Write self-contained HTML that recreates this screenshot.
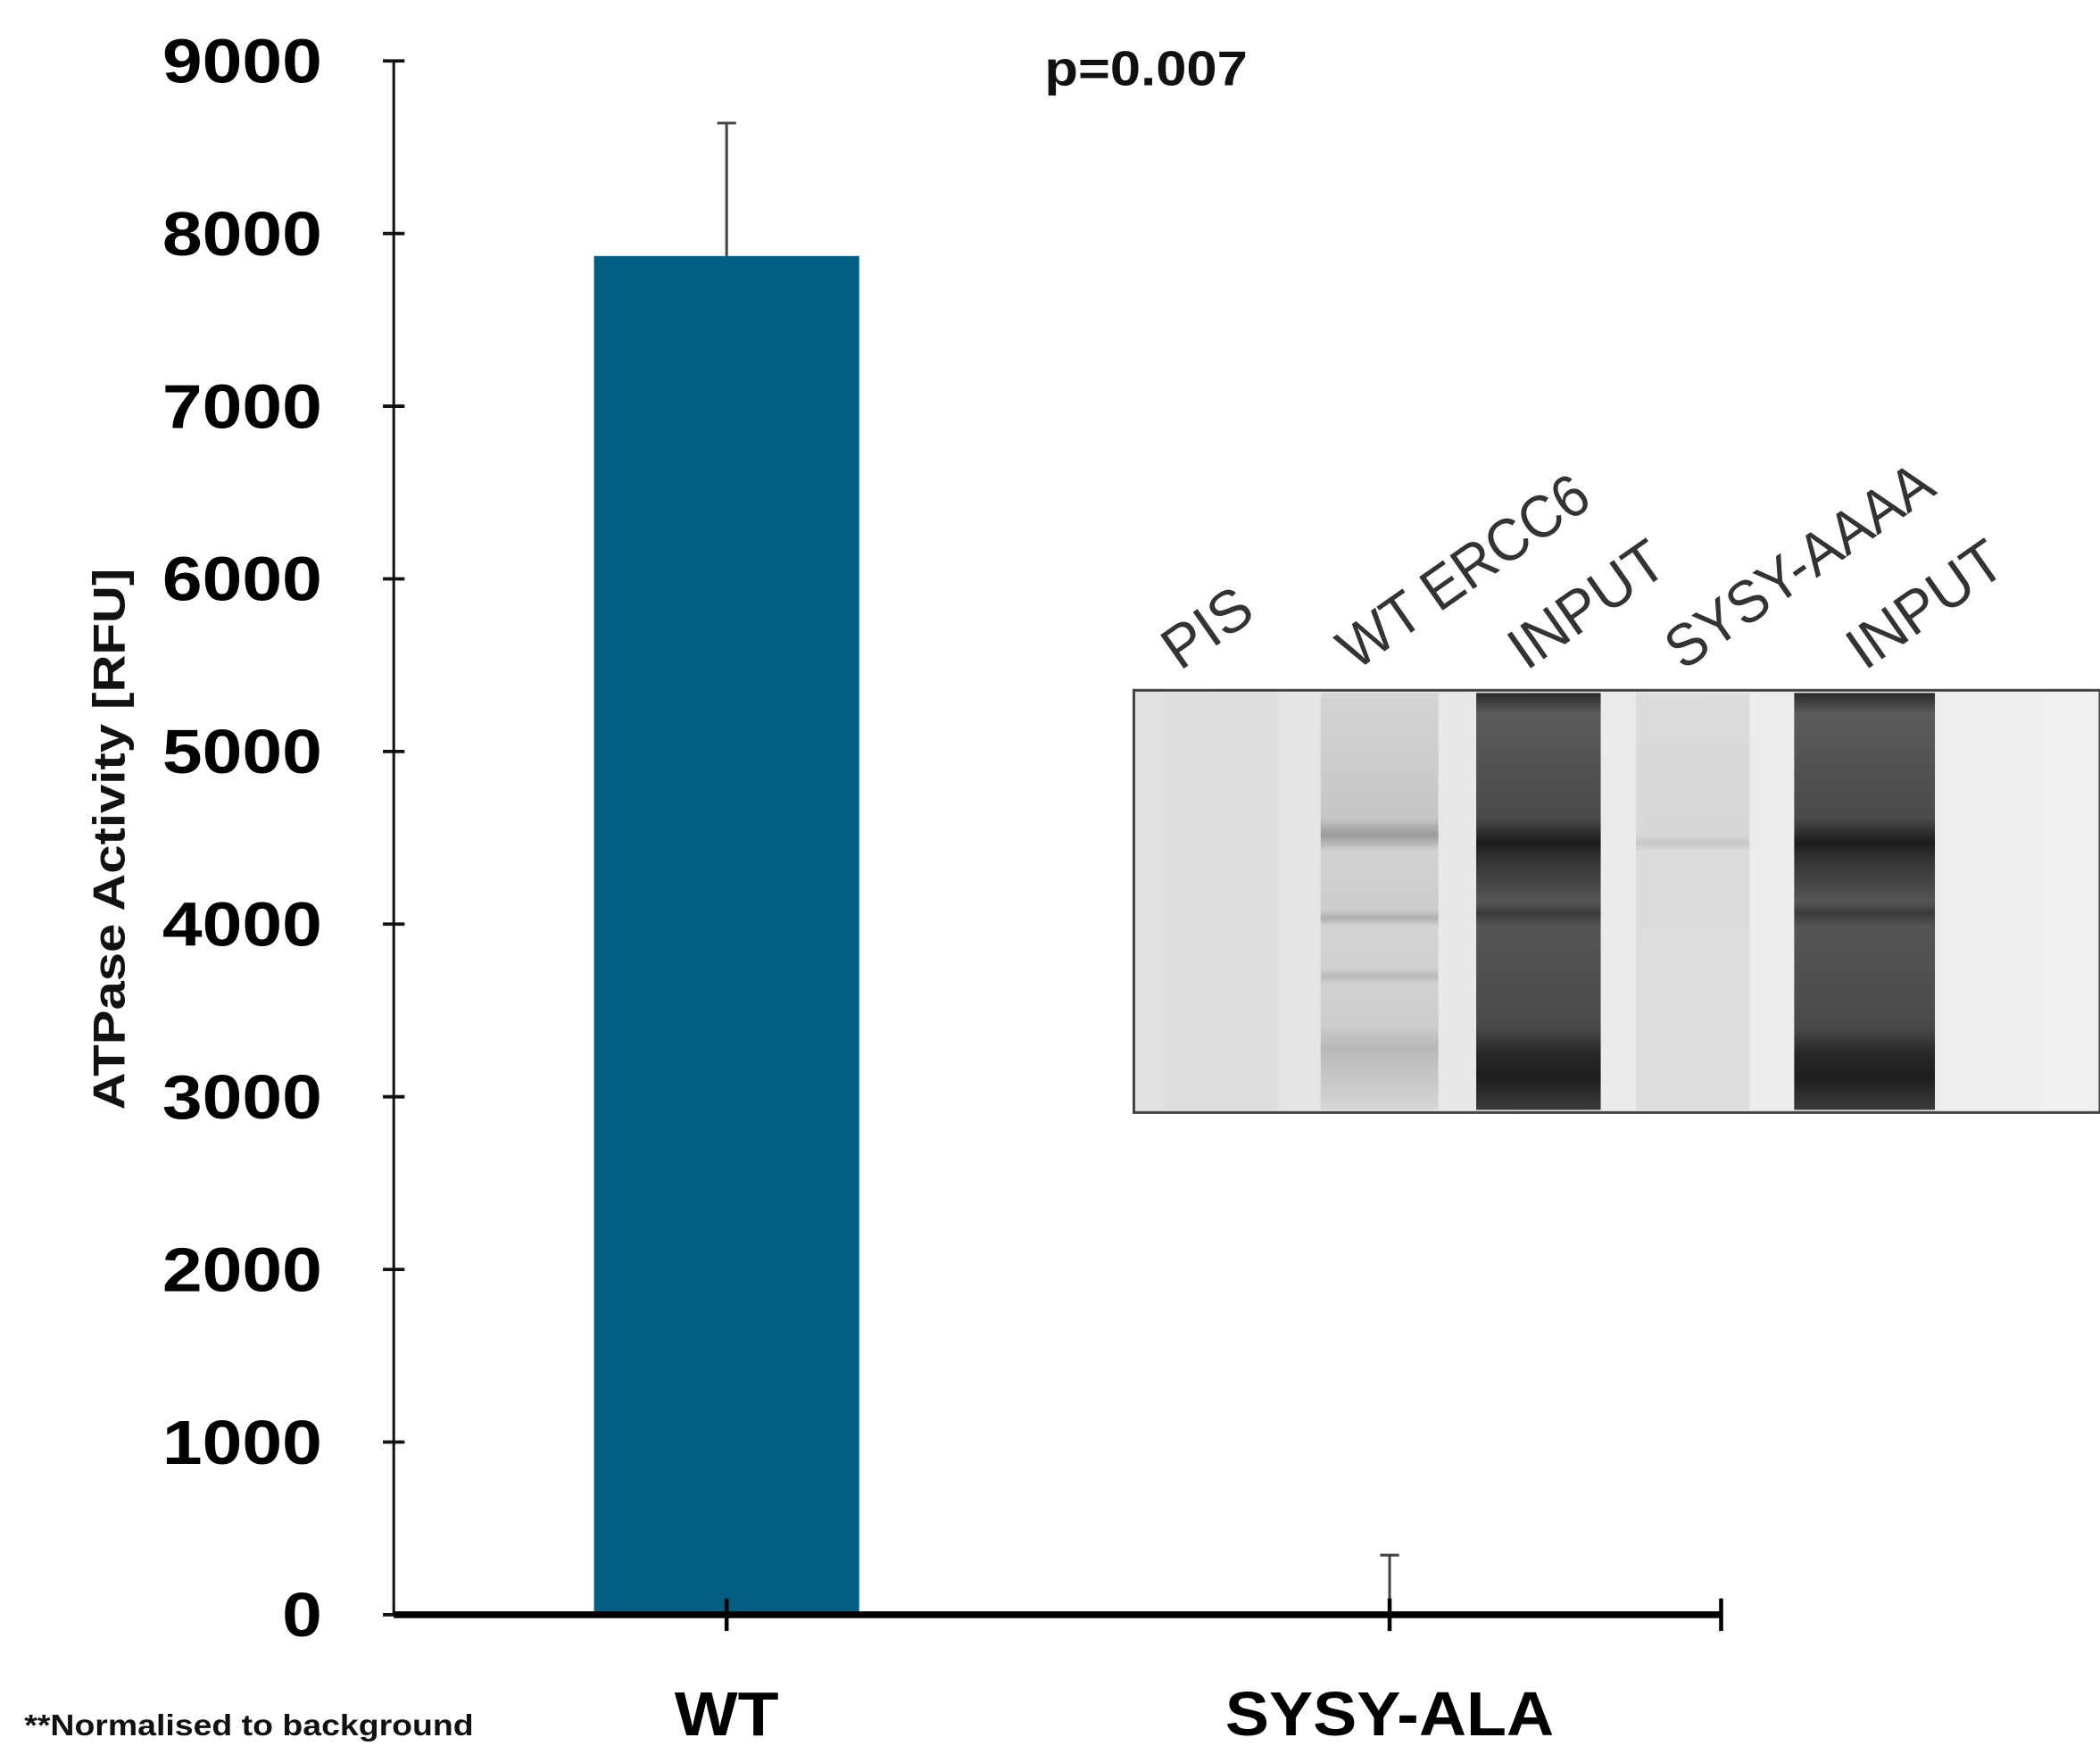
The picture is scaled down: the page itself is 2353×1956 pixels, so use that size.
<!DOCTYPE html>
<html><head><meta charset="utf-8"><style>
html,body{margin:0;padding:0;background:#fff;}
svg{display:block;}
text{font-family:"Liberation Sans",Arial,sans-serif;}
</style></head><body>
<svg id="chart" width="2353" height="1956" viewBox="0 0 1552 1290" preserveAspectRatio="none" xmlns="http://www.w3.org/2000/svg">
<defs>
<linearGradient id="gelbg" x1="0" x2="1" y1="0" y2="0">
<stop offset="0" stop-color="#e2e2e2"/><stop offset="0.5" stop-color="#ebebeb"/><stop offset="1" stop-color="#f0f0f0"/>
</linearGradient>
<linearGradient id="darklane" x1="0" x2="0" y1="0" y2="1">
<stop offset="0" stop-color="#2a2a2a"/><stop offset="0.05" stop-color="#5a5a5a"/><stop offset="0.3" stop-color="#4a4a4a"/><stop offset="0.36" stop-color="#1c1c1c"/><stop offset="0.4" stop-color="#333"/><stop offset="0.5" stop-color="#555"/><stop offset="0.53" stop-color="#3a3a3a"/><stop offset="0.56" stop-color="#555"/><stop offset="0.8" stop-color="#4a4a4a"/><stop offset="0.86" stop-color="#2a2a2a"/><stop offset="0.92" stop-color="#1e1e1e"/><stop offset="1" stop-color="#3a3a3a"/>
</linearGradient>
<linearGradient id="midlane" x1="0" x2="0" y1="0" y2="1">
<stop offset="0" stop-color="#d4d4d4"/><stop offset="0.3" stop-color="#c6c6c6"/><stop offset="0.34" stop-color="#9a9a9a"/><stop offset="0.38" stop-color="#d2d2d2"/><stop offset="0.52" stop-color="#cccccc"/><stop offset="0.54" stop-color="#b0b0b0"/><stop offset="0.56" stop-color="#d4d4d4"/><stop offset="0.66" stop-color="#d0d0d0"/><stop offset="0.68" stop-color="#bbbbbb"/><stop offset="0.7" stop-color="#d2d2d2"/><stop offset="0.8" stop-color="#cccccc"/><stop offset="0.85" stop-color="#b8b8b8"/><stop offset="1" stop-color="#d6d6d6"/>
</linearGradient>
<linearGradient id="faintlane" x1="0" x2="0" y1="0" y2="1">
<stop offset="0" stop-color="#dcdcdc"/><stop offset="0.34" stop-color="#d8d8d8"/><stop offset="0.36" stop-color="#c8c8c8"/><stop offset="0.38" stop-color="#dcdcdc"/><stop offset="1" stop-color="#dedede"/>
</linearGradient>
</defs>
<g id="plot"></g>
<text x="772" y="63" font-size="36" font-weight="bold" fill="#111" textLength="150" lengthAdjust="spacingAndGlyphs">p=0.007</text>
<text transform="translate(92,620) rotate(-90)" text-anchor="middle" font-size="33" font-weight="bold" fill="#111" textLength="400" lengthAdjust="spacingAndGlyphs">ATPase Activity [RFU]</text>
<text x="18" y="1282" font-size="22" font-weight="bold" fill="#111" textLength="332" lengthAdjust="spacingAndGlyphs">**Normalised to background</text>
<g>
<rect x="838" y="510" width="714" height="312" fill="url(#gelbg)" stroke="#444" stroke-width="2"/>
<rect x="860" y="512" width="85" height="308" fill="#dcdcdc" opacity="0.7"/>
<rect x="976" y="512" width="87" height="308" fill="url(#midlane)"/>
<rect x="1091" y="512" width="92" height="308" fill="url(#darklane)"/>
<rect x="1209" y="512" width="84" height="308" fill="url(#faintlane)"/>
<rect x="1326" y="512" width="104" height="308" fill="url(#darklane)"/>
<g font-size="44" fill="#333">
<text transform="translate(872,496) rotate(-35)" textLength="70" lengthAdjust="spacingAndGlyphs">PIS</text>
<text transform="translate(1002,496) rotate(-35)" textLength="215" lengthAdjust="spacingAndGlyphs">WT ERCC6</text>
<text transform="translate(1128,496) rotate(-35)" textLength="130" lengthAdjust="spacingAndGlyphs">INPUT</text>
<text transform="translate(1244,496) rotate(-35)" textLength="230" lengthAdjust="spacingAndGlyphs">SYSY-AAAA</text>
<text transform="translate(1378,496) rotate(-35)" textLength="130" lengthAdjust="spacingAndGlyphs">INPUT</text>
</g>
</g>
</svg>
<script>
const categories = ["WT", "SYSY-ALA"];
const values = [7870, 0];
const errors = [770, 345];
const yTicks = [0, 1000, 2000, 3000, 4000, 5000, 6000, 7000, 8000, 9000];
const yTickLabels = ["0","1000","2000","3000","4000","5000","6000","7000","8000","9000"];

const NS = "http://www.w3.org/2000/svg";
const g = document.getElementById('plot');
const x0 = 291, xEnd = 1272, yZero = 1193, yTop = 45, yMax = 9000;
const y = v => yZero - (yZero - yTop) * v / yMax;
const catX = [537, 1027];
const xPos = i => catX[0] + i * (catX[1] - catX[0]);
const barW = 196;
function mk(tag, attrs) { const e = document.createElementNS(NS, tag); for (const k in attrs) e.setAttribute(k, attrs[k]); g.appendChild(e); return e; }

yTicks.forEach((t, i) => {
  const tk = mk('line', {x1: x0 - 8, x2: x0 + 8, y1: y(t), y2: y(t), stroke: '#111', 'stroke-width': 2.5});
  
  
  const lb = mk('text', {x: 238, y: y(t) + 16, 'text-anchor': 'end', 'font-size': 46, 'font-weight': 'bold', fill: '#000', textLength: 29.5 * yTickLabels[i].length, lengthAdjust: 'spacingAndGlyphs'});
  lb.textContent = yTickLabels[i];
  
  
});

const xLabelLen = [77, 243];
categories.forEach((c, i) => {
  const cx = xPos(i);
  if (values[i] > 0) {
    const b = mk('rect', {x: cx - barW / 2, y: y(values[i]), width: barW, height: yZero - y(values[i]), fill: '#025e82'});
    
    
  }
  const e = mk('path', {d: `M${cx} ${y(values[i])} V${y(values[i] + errors[i])} M${cx - 7} ${y(values[i] + errors[i])} H${cx + 7}`, stroke: '#444', 'stroke-width': 2, fill: 'none'});
  
  
  const l = mk('text', {x: cx, y: 1282, 'text-anchor': 'middle', 'font-size': 46, 'font-weight': 'bold', fill: '#000', textLength: xLabelLen[i], lengthAdjust: 'spacingAndGlyphs'});
  l.textContent = c;
  
  
});

const ya = mk('line', {x1: x0, x2: x0, y1: yTop, y2: yZero, stroke: '#111', 'stroke-width': 2});


const xa = mk('line', {x1: x0, x2: xEnd, y1: yZero, y2: yZero, stroke: '#000', 'stroke-width': 5});


[xPos(0), xPos(1), xEnd].forEach(tx => {
  const t = mk('line', {x1: tx, x2: tx, y1: yZero - 12, y2: yZero + 12, stroke: '#000', 'stroke-width': 3});
  
  
});
</script>
</body></html>
